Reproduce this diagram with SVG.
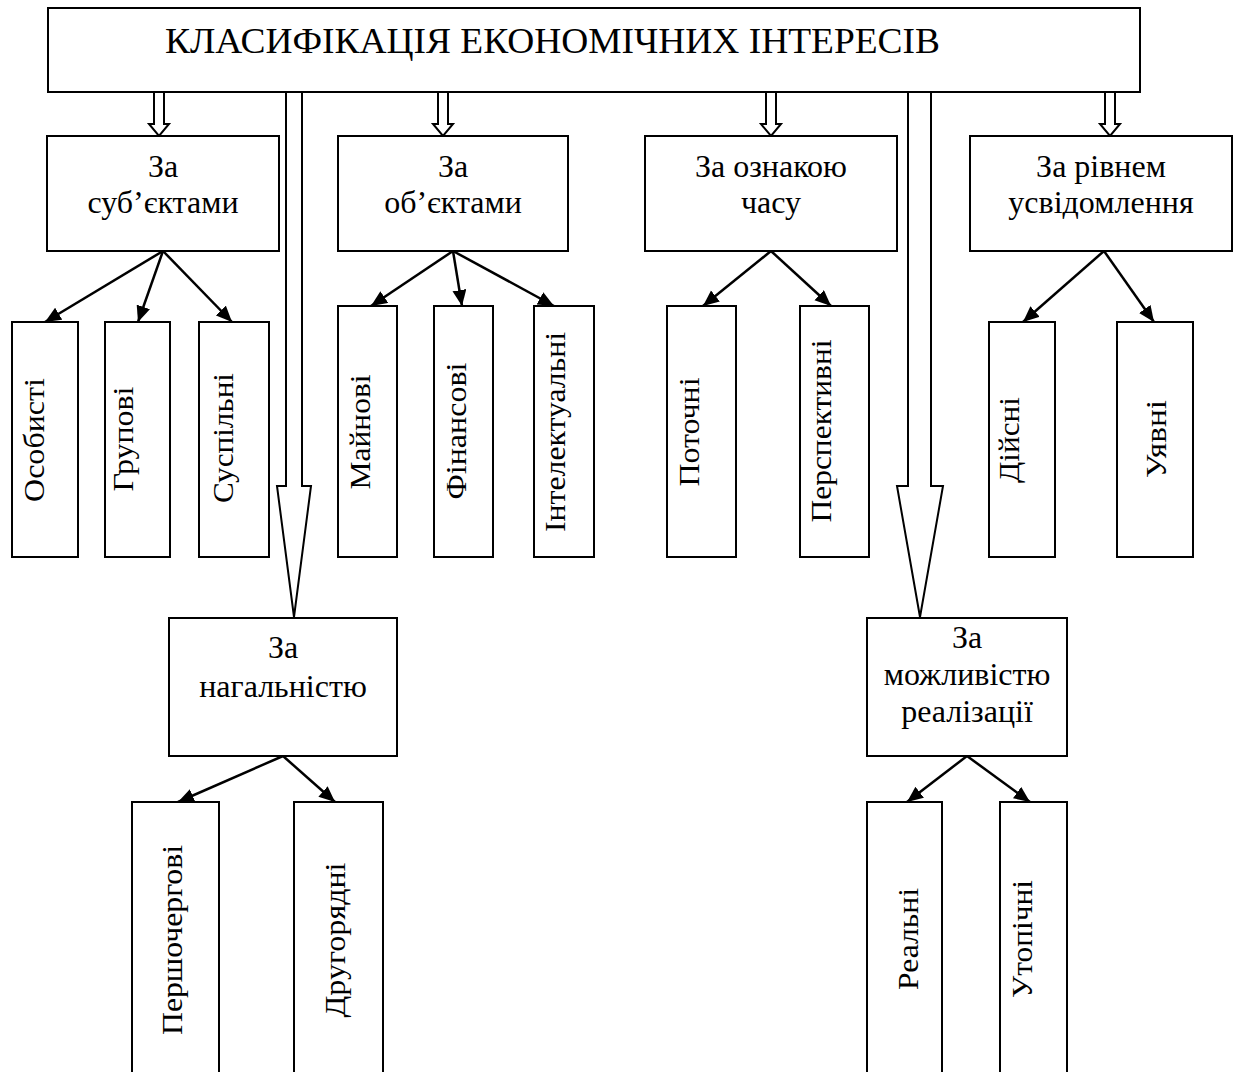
<svg xmlns="http://www.w3.org/2000/svg" width="1238" height="1072" viewBox="0 0 1238 1072">
<style>
.box{fill:#fff;stroke:#000;stroke-width:2}
text{font-family:'Liberation Serif','Times New Roman','DejaVu Serif',serif;fill:#000}
.t{font-size:32px;text-anchor:middle}
.title{font-size:35px}
.v{font-size:29px;text-anchor:middle}
.hollow{fill:#fff;stroke:#000;stroke-width:2;stroke-linejoin:miter}
.con{stroke:#000;stroke-width:2.5;fill:none;marker-end:url(#ah)}
</style>
<defs>
<marker id="ah" markerUnits="userSpaceOnUse" markerWidth="17" markerHeight="15" refX="16" refY="7" orient="auto">
<path d="M0,0 L16,7 L0,14 z" fill="#000"/>
</marker>
</defs>
<rect width="1238" height="1072" fill="#fff"/>

<g id="root">
<rect class="box" x="48" y="8" width="1092" height="84"/>
<text class="title" x="165" y="53" textLength="775" lengthAdjust="spacingAndGlyphs">КЛАСИФІКАЦІЯ ЕКОНОМІЧНИХ ІНТЕРЕСІВ</text>
</g>

<g id="connectors">
<path class="hollow" d="M154,93 V124 H149 L159,136 L169,124 H164 V93"/>
<path class="hollow" d="M438,93 V124 H433 L443,136 L453,124 H448 V93"/>
<path class="hollow" d="M766,93 V124 H761 L771,136 L781,124 H776 V93"/>
<path class="hollow" d="M1105,93 V124 H1100 L1110,136 L1120,124 H1115 V93"/>
<path class="hollow" d="M286,93 V486 H277 L294,617 L311,486 H302 V93"/>
<path class="hollow" d="M908,93 V486 H897 L920,617 L943,486 H931 V93"/>
<line class="con" x1="163" y1="251" x2="45" y2="322"/>
<line class="con" x1="163" y1="251" x2="138" y2="322"/>
<line class="con" x1="163" y1="251" x2="232" y2="322"/>
<line class="con" x1="453" y1="251" x2="371" y2="306"/>
<line class="con" x1="453" y1="251" x2="462" y2="306"/>
<line class="con" x1="453" y1="251" x2="554" y2="306"/>
<line class="con" x1="771" y1="251" x2="703" y2="306"/>
<line class="con" x1="771" y1="251" x2="831" y2="306"/>
<line class="con" x1="1104" y1="251" x2="1023" y2="322"/>
<line class="con" x1="1104" y1="251" x2="1154" y2="322"/>
<line class="con" x1="283" y1="756" x2="178" y2="802"/>
<line class="con" x1="283" y1="756" x2="335" y2="802"/>
<line class="con" x1="967" y1="756" x2="907" y2="802"/>
<line class="con" x1="967" y1="756" x2="1030" y2="802"/>
</g>

<g id="subjects">
<rect class="box" x="47" y="136" width="232" height="115"/>
<text class="t" x="163" y="177">За</text>
<text class="t" x="163" y="213">суб’єктами</text>
</g>
<g id="objects">
<rect class="box" x="338" y="136" width="230" height="115"/>
<text class="t" x="453" y="177">За</text>
<text class="t" x="453" y="213">об’єктами</text>
</g>
<g id="time">
<rect class="box" x="645" y="136" width="252" height="115"/>
<text class="t" x="771" y="177">За ознакою</text>
<text class="t" x="771" y="213">часу</text>
</g>
<g id="awareness">
<rect class="box" x="970" y="136" width="262" height="115"/>
<text class="t" x="1101" y="177">За рівнем</text>
<text class="t" x="1101" y="213">усвідомлення</text>
</g>
<g id="urgency">
<rect class="box" x="169" y="618" width="228" height="138"/>
<text class="t" x="283" y="658">За</text>
<text class="t" x="283" y="697">нагальністю</text>
</g>
<g id="feasibility">
<rect class="box" x="867" y="618" width="200" height="138"/>
<text class="t" x="967" y="648">За</text>
<text class="t" x="967" y="685">можливістю</text>
<text class="t" x="967" y="722">реалізації</text>
</g>

<g id="personal">
<rect class="box" x="12" y="322" width="66" height="235"/>
<text class="v" transform="translate(44,440) rotate(-90)" textLength="124" lengthAdjust="spacingAndGlyphs">Особисті</text>
</g>
<g id="group">
<rect class="box" x="105" y="322" width="65" height="235"/>
<text class="v" transform="translate(133,439) rotate(-90)" textLength="105" lengthAdjust="spacingAndGlyphs">Групові</text>
</g>
<g id="social">
<rect class="box" x="199" y="322" width="70" height="235"/>
<text class="v" transform="translate(233,438) rotate(-90)" textLength="130" lengthAdjust="spacingAndGlyphs">Суспільні</text>
</g>
<g id="property">
<rect class="box" x="338" y="306" width="59" height="251"/>
<text class="v" transform="translate(370,432) rotate(-90)" textLength="115" lengthAdjust="spacingAndGlyphs">Майнові</text>
</g>
<g id="financial">
<rect class="box" x="434" y="306" width="59" height="251"/>
<text class="v" transform="translate(466,431) rotate(-90)" textLength="137" lengthAdjust="spacingAndGlyphs">Фінансові</text>
</g>
<g id="intellectual">
<rect class="box" x="534" y="306" width="60" height="251"/>
<text class="v" transform="translate(565,432) rotate(-90)" textLength="200" lengthAdjust="spacingAndGlyphs">Інтелектуальні</text>
</g>
<g id="current">
<rect class="box" x="667" y="306" width="69" height="251"/>
<text class="v" transform="translate(699,432) rotate(-90)" textLength="109" lengthAdjust="spacingAndGlyphs">Поточні</text>
</g>
<g id="perspective">
<rect class="box" x="800" y="306" width="69" height="251"/>
<text class="v" transform="translate(831,431) rotate(-90)" textLength="183" lengthAdjust="spacingAndGlyphs">Перспективні</text>
</g>
<g id="actual">
<rect class="box" x="989" y="322" width="66" height="235"/>
<text class="v" transform="translate(1019,440) rotate(-90)" textLength="86" lengthAdjust="spacingAndGlyphs">Дійсні</text>
</g>
<g id="imaginary">
<rect class="box" x="1117" y="322" width="76" height="235"/>
<text class="v" transform="translate(1166,439) rotate(-90)" textLength="78" lengthAdjust="spacingAndGlyphs">Уявні</text>
</g>
<g id="primary">
<rect class="box" x="132" y="802" width="87" height="290"/>
<text class="v" transform="translate(182,940) rotate(-90)" textLength="190" lengthAdjust="spacingAndGlyphs">Першочергові</text>
</g>
<g id="secondary">
<rect class="box" x="294" y="802" width="89" height="290"/>
<text class="v" transform="translate(345,940) rotate(-90)" textLength="155" lengthAdjust="spacingAndGlyphs">Другорядні</text>
</g>
<g id="real">
<rect class="box" x="867" y="802" width="75" height="290"/>
<text class="v" transform="translate(918,939) rotate(-90)" textLength="102" lengthAdjust="spacingAndGlyphs">Реальні</text>
</g>
<g id="utopian">
<rect class="box" x="1000" y="802" width="67" height="290"/>
<text class="v" transform="translate(1032,939) rotate(-90)" textLength="118" lengthAdjust="spacingAndGlyphs">Утопічні</text>
</g>
</svg>
